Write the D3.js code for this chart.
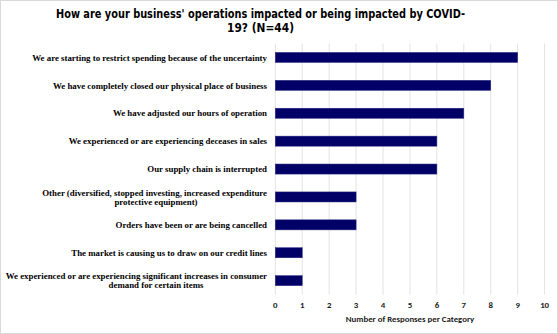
<!DOCTYPE html>
<html><head><meta charset="utf-8">
<script src="https://cdn.jsdelivr.net/npm/d3@7"></script>
<style>body{margin:0;background:#fff}svg{display:block}</style>
</head><body>
<script>
const titleLines = ["How are your business' operations impacted or being impacted by COVID-", "19? (N=44)"];
const categories = [
  ["We are starting to restrict spending because of the uncertainty"],
  ["We have completely closed our physical place of business"],
  ["We have adjusted our hours of operation"],
  ["We experienced or are experiencing deceases in sales"],
  ["Our supply chain is interrupted"],
  ["Other (diversified, stopped investing,  increased expenditure", "protective equipment)"],
  ["Orders have been or are being cancelled"],
  ["The market is causing us to draw on our credit lines"],
  ["We experienced or are experiencing significant increases in consumer", "demand for certain items"]
];
const values = [9, 8, 7, 6, 6, 3, 3, 1, 1];
const ticks = [0,1,2,3,4,5,6,7,8,9,10];
const xTitle = "Number of Responses per Category";

const W = 558, H = 334;
const svg = d3.select("body").append("svg").attr("width", W).attr("height", H);
svg.append("rect").attr("x",0.5).attr("y",0.5).attr("width",W-1).attr("height",H-1)
  .attr("fill","#fff").attr("stroke","#d9d9d9");

const m = {left: 275.3, right: 544.6, top: 43.5, bottom: 294.6};
const x = d3.scaleLinear().domain([0,10]).range([m.left, m.right]);
const y = d3.scaleBand().domain(d3.range(categories.length)).range([m.top, m.bottom]).paddingInner(0.64).paddingOuter(0.32);

// title
const titleWidths = [409, 67];
svg.append("g").selectAll("text").data(titleLines).join("text")
  .attr("x", 260.5).attr("y", (d,i)=>18 + i*13.6)
  .attr("text-anchor","middle")
  .attr("font-family","'DejaVu Sans', Verdana, sans-serif").attr("font-weight","bold")
  .attr("font-size", 11.5).attr("fill","#000")
  .attr("textLength", (d,i)=>titleWidths[i]).attr("lengthAdjust","spacingAndGlyphs")
  .text(d=>d);

// grid
svg.append("g").selectAll("line").data(ticks).join("line")
  .attr("x1", d=>x(d)).attr("x2", d=>x(d))
  .attr("y1", m.top).attr("y2", m.bottom)
  .attr("stroke","#e3e3e3").attr("stroke-width",1);

// bars
svg.append("g").selectAll("rect").data(values).join("rect")
  .attr("x", x(0)).attr("y", (d,i)=>y(i))
  .attr("width", d=>x(d)-x(0)).attr("height", y.bandwidth())
  .attr("fill","#000066").attr("stroke","#2a2a80").attr("stroke-width",0.5);

// x tick labels
svg.append("g").selectAll("text").data(ticks).join("text")
  .attr("x", d=>x(d)).attr("y", 308)
  .attr("text-anchor","middle")
  .attr("font-family","Carlito, 'Liberation Sans', Arial, sans-serif").attr("font-weight","bold")
  .attr("font-size", 8.8).attr("fill","#1a1a1a")
  .text(d=>d);

svg.append("text").attr("x", 410).attr("y", 321.5)
  .attr("text-anchor","middle")
  .attr("font-family","Carlito, 'Liberation Sans', Arial, sans-serif").attr("font-weight","bold")
  .attr("font-size", 8.8).attr("fill","#1a1a1a")
  .text(xTitle);

// category labels
const lab = svg.append("g").attr("font-family","'Liberation Serif','Times New Roman',serif")
  .attr("font-weight","bold").attr("font-size",8.85).attr("fill","#000");
categories.forEach((lines,i)=>{
  const cy = y(i) + y.bandwidth()/2;
  const n = lines.length;
  lines.forEach((t,j)=>{
    const ty = cy + (j - (n-1)/2)*9.0 + 3.2;
    lab.append("text")
      .attr("x", j===0 ? 267 : 156)
      .attr("y", ty)
      .attr("text-anchor", j===0 ? "end" : "middle")
      .text(t);
  });
});
</script>
</body></html>
